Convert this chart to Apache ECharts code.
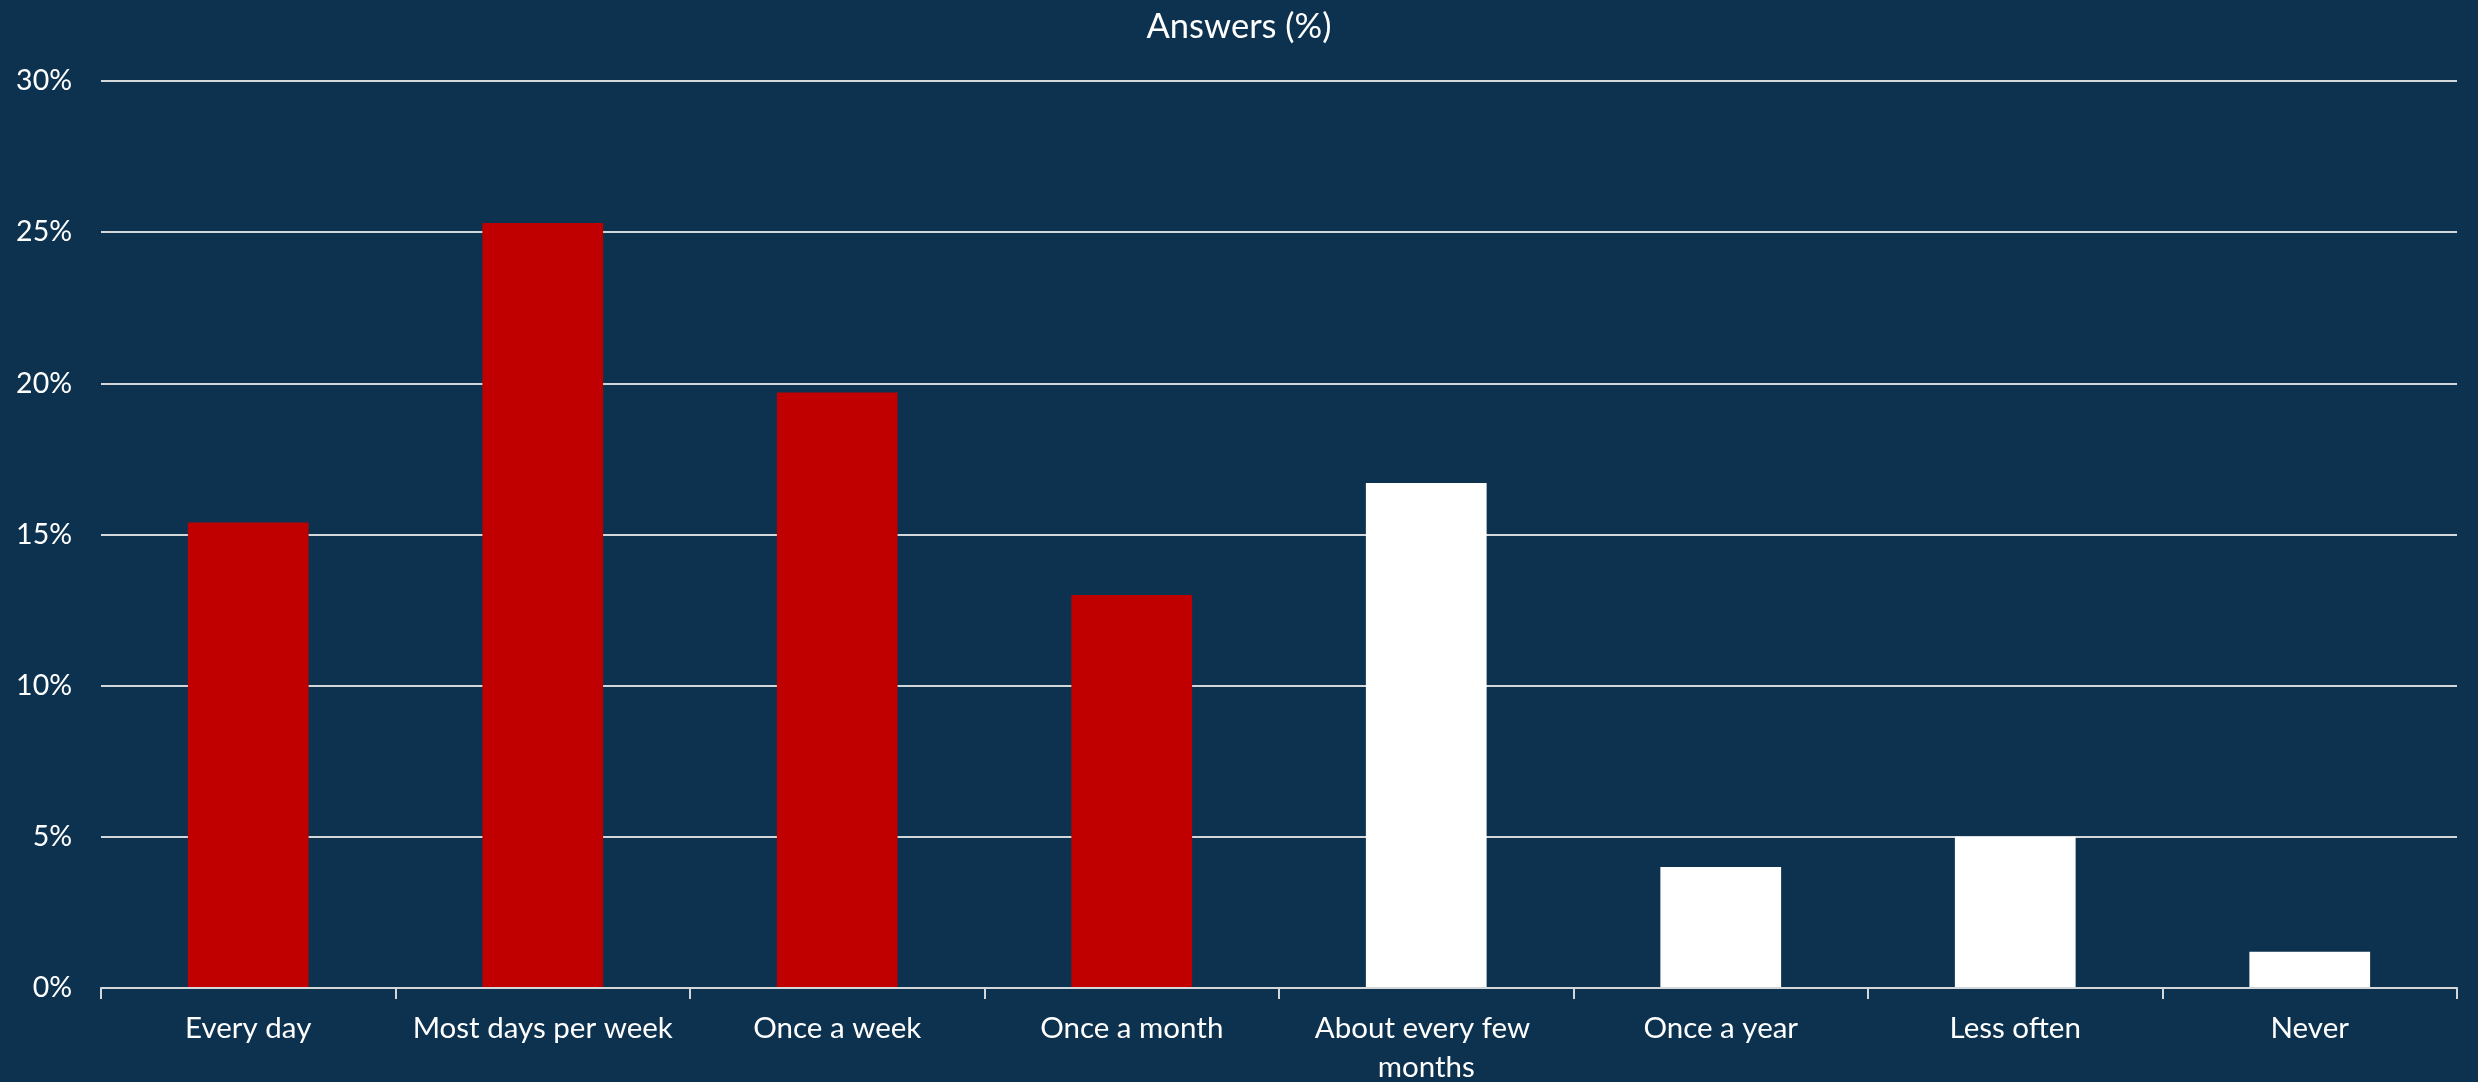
<!DOCTYPE html>
<html>
<head>
<meta charset="utf-8">
<title>Answers (%)</title>
<script src="https://cdn.jsdelivr.net/npm/echarts@6/dist/echarts.min.js"></script>
<style>
  html, body { margin: 0; padding: 0; background: #0d324f; }
  #chart { width: 2478px; height: 1082px; }
</style>
</head>
<body>
<div id="chart"></div>
<script>
// Survey answer categories (frequency) and share of answers in percent
const categories = [
  'Every day',
  'Most days per week',
  'Once a week',
  'Once a month',
  'About every few months',
  'Once a year',
  'Less often',
  'Never'
];
const answerShare = [15.4, 25.3, 19.7, 13.0, 16.7, 4.0, 5.0, 1.2];
const yTicks = [0, 5, 10, 15, 20, 25, 30];

// The first four categories (at least monthly) are drawn in red, the rest in white
const frequentCount = 4;
const RED = '#c00000';
const WHITE = '#ffffff';
const GRID = '#d4d7da';
const FONT = 'Lato, "Open Sans", sans-serif';

const chart = echarts.init(document.getElementById('chart'), null, { renderer: 'canvas' });

chart.setOption({
  backgroundColor: '#0d324f',
  animation: false,
  title: {
    text: 'Answers (%)',
    left: 'center',
    top: 4,
    textStyle: { color: '#ffffff', fontFamily: FONT, fontSize: 34.5, fontWeight: 'normal' }
  },
  grid: {
    left: 101,
    right: 21,
    top: 81,
    bottom: 94,
    outerBoundsMode: 'none'
  },
  xAxis: {
    type: 'category',
    data: categories,
    z: 5,
    axisLine: { show: true, lineStyle: { color: GRID, width: 2 } },
    axisTick: { show: true, length: 11, lineStyle: { color: GRID, width: 2 } },
    axisLabel: {
      color: '#ffffff',
      fontFamily: FONT,
      fontSize: 29.5,
      margin: 21,
      interval: 0,
      width: 290,
      overflow: 'break',
      lineHeight: 39
    },
    splitLine: { show: false }
  },
  yAxis: {
    type: 'value',
    min: yTicks[0],
    max: yTicks[yTicks.length - 1],
    interval: yTicks[1] - yTicks[0],
    axisLine: { show: false },
    axisTick: { show: false },
    axisLabel: {
      color: '#ffffff',
      fontFamily: FONT,
      fontSize: 28.5,
      margin: 29,
      formatter: '{value}%'
    },
    splitLine: { show: true, lineStyle: { color: GRID, width: 2 } }
  },
  series: [{
    type: 'bar',
    data: answerShare,
    barWidth: '41%',
    itemStyle: {
      color: function (p) { return p.dataIndex < frequentCount ? RED : WHITE; }
    }
  }]
});
</script>
</body>
</html>
